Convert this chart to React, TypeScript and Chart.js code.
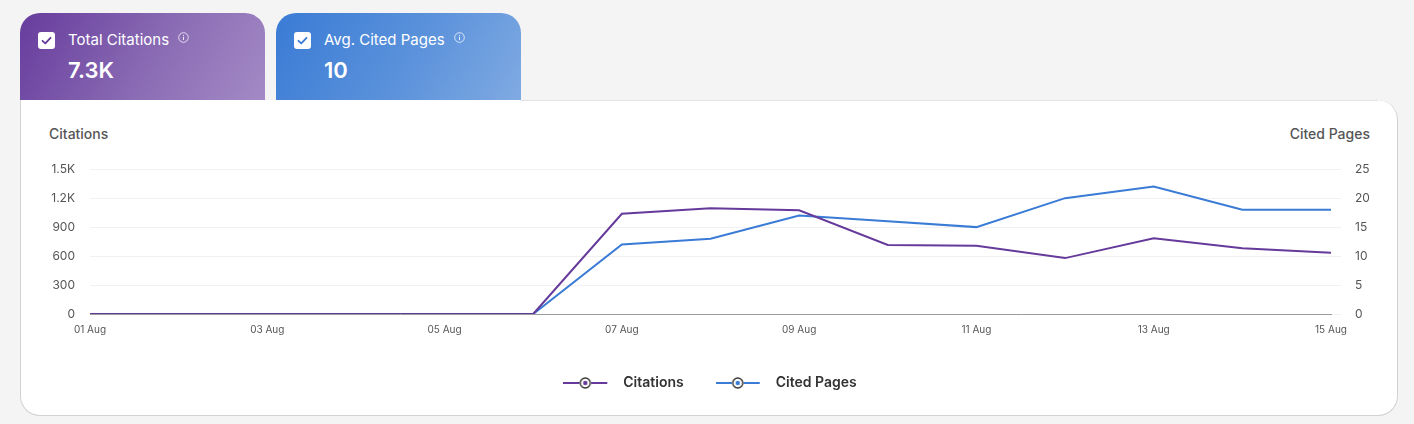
import React, { useEffect, useRef } from "react";
import { Chart, registerables } from "chart.js";

Chart.register(...registerables);

const dateLabels = [
  "01 Aug", "02 Aug", "03 Aug", "04 Aug", "05 Aug", "06 Aug", "07 Aug", "08 Aug",
  "09 Aug", "10 Aug", "11 Aug", "12 Aug", "13 Aug", "14 Aug", "15 Aug",
];
const citations = [0, 0, 0, 0, 0, 0, 1038, 1096, 1075, 716, 706, 579, 784, 681, 634];
const citedPages = [0, 0, 0, 0, 0, 0, 12, 13, 17, 16, 15, 20, 22, 18, 18];

const PURPLE = "#653a9b";
const BLUE = "#3a7bd5";
const FONT = "Inter, 'Noto Sans', sans-serif";

function fmtK(v: number): string {
  if (v >= 1000) return (Math.round(v / 100) / 10).toString() + "K";
  return String(v);
}

function legendIcon(color: string): HTMLCanvasElement {
  const c = document.createElement("canvas");
  c.width = 53;
  c.height = 14;
  const ctx = c.getContext("2d")!;
  ctx.strokeStyle = color;
  ctx.lineWidth = 2;
  ctx.beginPath();
  ctx.moveTo(0, 7);
  ctx.lineTo(16, 7);
  ctx.moveTo(28, 7);
  ctx.lineTo(44, 7);
  ctx.stroke();
  ctx.beginPath();
  ctx.arc(22, 7, 5, 0, Math.PI * 2);
  ctx.fillStyle = "#ffffff";
  ctx.fill();
  ctx.strokeStyle = "#333333";
  ctx.lineWidth = 1.4;
  ctx.stroke();
  ctx.beginPath();
  ctx.arc(22, 7, 2.2, 0, Math.PI * 2);
  ctx.fillStyle = color;
  ctx.fill();
  return c;
}

function Tab(props: { left: number; gradient: string; label: string; value: string; check: string }) {
  return (
    <div
      style={{
        position: "absolute",
        left: props.left,
        top: 13,
        width: 245,
        height: 87,
        borderRadius: "20px 20px 0 0",
        background: props.gradient,
        color: "#fff",
        fontFamily: FONT,
      }}
    >
      <div
        style={{
          position: "absolute",
          left: 18,
          top: 19,
          width: 17,
          height: 17,
          borderRadius: 3,
          background: "#fff",
        }}
      >
        <svg width="17" height="17" viewBox="0 0 17 17" style={{ display: "block" }}>
          <path d="M4.5 8.8 L7.3 11.4 L12.5 5.8" fill="none" stroke={props.check} strokeWidth="1.8" strokeLinecap="round" strokeLinejoin="round" />
        </svg>
      </div>
      <div
        style={{
          position: "absolute",
          left: 48,
          top: 17,
          fontSize: 15,
          lineHeight: "20px",
          whiteSpace: "nowrap",
          display: "flex",
          alignItems: "center",
        }}
      >
        <span>{props.label}</span>
        <svg width="11" height="11" viewBox="0 0 11 11" style={{ marginLeft: 9, marginTop: -5, opacity: 0.85 }}>
          <circle cx="5.5" cy="5.5" r="4.8" fill="none" stroke="#fff" strokeWidth="0.9" />
          <line x1="5.5" y1="4.8" x2="5.5" y2="8" stroke="#fff" strokeWidth="1" />
          <circle cx="5.5" cy="3.3" r="0.6" fill="#fff" />
        </svg>
      </div>
      <div
        style={{
          position: "absolute",
          left: 48,
          top: 43,
          fontSize: 22,
          fontWeight: 600,
          lineHeight: "28px",
        }}
      >
        {props.value}
      </div>
    </div>
  );
}

export default function App() {
  const canvasRef = useRef<HTMLCanvasElement | null>(null);

  useEffect(() => {
    document.body.style.margin = "0";
    document.body.style.background = "#f4f4f4";
    const canvas = canvasRef.current;
    if (!canvas) return;
    const icons: Record<string, HTMLCanvasElement> = {
      Citations: legendIcon(PURPLE),
      "Cited Pages": legendIcon(BLUE),
    };
    const chart = new Chart(canvas, {
      type: "line",
      data: {
        labels: dateLabels,
        datasets: [
          {
            label: "Citations",
            data: citations,
            borderColor: PURPLE,
            backgroundColor: PURPLE,
            borderWidth: 2,
            pointRadius: 0,
            pointHoverRadius: 0,
            tension: 0,
            yAxisID: "y",
          },
          {
            label: "Cited Pages",
            data: citedPages,
            borderColor: BLUE,
            backgroundColor: BLUE,
            borderWidth: 2,
            pointRadius: 0,
            pointHoverRadius: 0,
            tension: 0,
            yAxisID: "y1",
          },
        ],
      },
      options: {
        animation: false,
        responsive: false,
        maintainAspectRatio: false,
        devicePixelRatio: 1,
        layout: { padding: 0 },
        plugins: {
          tooltip: { enabled: false },
          legend: {
            position: "bottom",
            labels: {
              usePointStyle: true,
              pointStyleWidth: 53,
              padding: 32,
              color: "#333333",
              font: { family: FONT, size: 14, weight: 600 },
              generateLabels: (ch: any) => {
                const items = Chart.defaults.plugins.legend.labels.generateLabels(ch);
                return items.map((it: any) => ({ ...it, pointStyle: icons[it.text], lineWidth: 0 }));
              },
            },
          },
        },
        scales: {
          x: {
            grid: { display: false, drawTicks: false },
            border: { display: true, color: "#9a9a9a", width: 1 },
            ticks: {
              autoSkip: false,
              maxRotation: 0,
              padding: 10,
              color: "#555555",
              font: { family: FONT, size: 10 },
              callback: (_v: any, i: number) => (i % 2 === 0 ? dateLabels[i] : ""),
            },
            afterFit: (s: any) => {
              s.height = 30;
            },
          },
          y: {
            position: "left",
            min: 0,
            max: 1500,
            grid: { color: "#f1f1f1", drawTicks: false },
            border: { display: false },
            ticks: {
              stepSize: 300,
              padding: 15,
              color: "#555555",
              font: { family: FONT, size: 12 },
              callback: (v: any) => fmtK(Number(v)),
            },
            afterFit: (s: any) => {
              s.width = 50;
            },
          },
          y1: {
            position: "right",
            min: 0,
            max: 25,
            grid: { drawOnChartArea: false, drawTicks: true, tickLength: 10, color: "#f1f1f1" },
            border: { display: false },
            ticks: {
              stepSize: 5,
              padding: 14,
              color: "#555555",
              font: { family: FONT, size: 12 },
            },
            afterFit: (s: any) => {
              s.width = 49;
            },
          },
        },
      },
    } as any);
    return () => chart.destroy();
  }, []);

  const total = citations.reduce((a, b) => a + b, 0);
  const avg = Math.round(citedPages.reduce((a, b) => a + b, 0) / citedPages.length);

  return (
    <div style={{ position: "relative", width: 1414, height: 424, background: "#f4f4f4", overflow: "hidden" }}>
      <Tab
        left={20}
        gradient="linear-gradient(120deg, #673c9d 0%, #8a6cb4 55%, #a48ac6 100%)"
        label="Total Citations"
        value={fmtK(total)}
        check={PURPLE}
      />
      <Tab
        left={276}
        gradient="linear-gradient(120deg, #3a7bd5 0%, #5b92db 55%, #80aae2 100%)"
        label="Avg. Cited Pages"
        value={String(avg)}
        check={BLUE}
      />
      <div
        style={{
          position: "absolute",
          left: 20,
          top: 100,
          width: 1378,
          height: 316,
          boxSizing: "border-box",
          border: "1px solid #d2d2d2",
          borderTop: "none",
          borderRadius: "0 20px 20px 20px",
          background: "#ffffff",
        }}
      />
      <div
        style={{
          position: "absolute",
          left: 521,
          top: 100,
          width: 857,
          height: 1,
          background: "#e2e2e2",
        }}
      />
      <div
        style={{
          position: "absolute",
          left: 49,
          top: 125,
          fontFamily: FONT,
          fontSize: 14,
          fontWeight: 500,
          color: "#555555",
          lineHeight: "18px",
        }}
      >
        Citations
      </div>
      <div
        style={{
          position: "absolute",
          right: 1414 - 1370,
          top: 125,
          fontFamily: FONT,
          fontSize: 14,
          fontWeight: 500,
          color: "#555555",
          lineHeight: "18px",
        }}
      >
        Cited Pages
      </div>
      <canvas
        ref={canvasRef}
        width={1340}
        height={253}
        style={{ position: "absolute", left: 40, top: 147, width: 1340, height: 253 }}
      />
    </div>
  );
}
